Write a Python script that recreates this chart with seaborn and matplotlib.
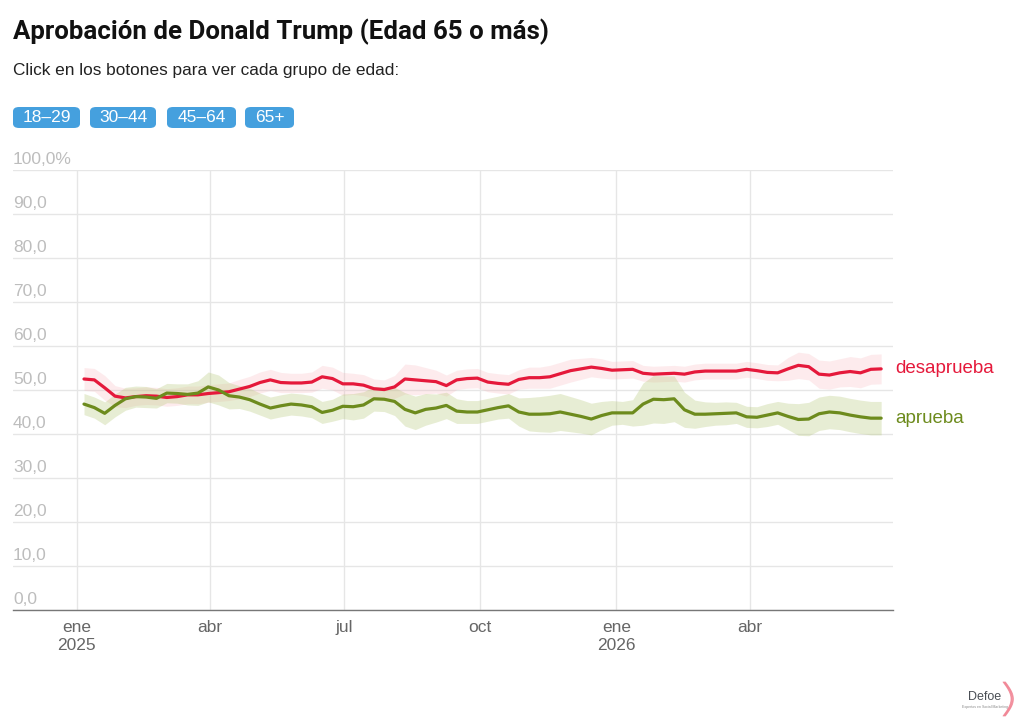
import numpy as np
import pandas as pd
import matplotlib.pyplot as plt
import seaborn as sns
from matplotlib.patches import FancyBboxPatch
from matplotlib.transforms import ScaledTranslation

# =============================================================================
# Data (weekly readings, 65+ age group)
# =============================================================================
weeks = pd.date_range('2025-01-06', periods=78, freq='7D')

desaprueba = [52.5, 52.3, 50.5, 48.6, 48.2, 48.5, 48.7, 48.6, 48.3, 48.5,
              48.9, 48.9, 49.2, 49.4, 49.6, 50.2, 50.8, 51.7, 52.3, 51.7,
              51.6, 51.6, 51.8, 53.0, 52.6, 51.4, 51.4, 51.1, 50.3, 50.1,
              50.7, 52.5, 52.3, 52.1, 51.9, 51.0, 52.3, 52.6, 52.7, 51.8,
              51.5, 51.3, 52.4, 52.8, 52.8, 53.0, 53.7, 54.4, 54.8, 55.2,
              54.9, 54.5, 54.6, 54.7, 53.8, 53.6, 53.7, 53.8, 53.6, 54.1,
              54.3, 54.3, 54.3, 54.3, 54.7, 54.4, 54.0, 53.9, 54.8, 55.6,
              55.3, 53.6, 53.4, 53.9, 54.2, 53.9, 54.7, 54.8]

aprueba = [46.8, 46.0, 44.7, 46.5, 48.0, 48.5, 48.4, 48.1, 49.3, 49.2,
           49.0, 49.3, 50.7, 50.0, 48.7, 48.4, 47.8, 46.8, 45.9, 46.4,
           46.8, 46.6, 46.2, 44.9, 45.4, 46.3, 46.2, 46.6, 48.0, 47.9,
           47.4, 45.6, 44.8, 45.6, 45.9, 46.5, 45.2, 45.0, 45.0, 45.5,
           46.0, 46.4, 45.0, 44.5, 44.5, 44.6, 45.0, 44.5, 44.0, 43.4,
           44.2, 44.8, 44.8, 44.8, 46.8, 47.9, 47.8, 48.0, 45.5, 44.5,
           44.5, 44.6, 44.7, 44.8, 43.9, 43.8, 44.3, 44.8, 44.0, 43.3,
           43.4, 44.6, 45.0, 44.8, 44.3, 43.9, 43.6, 43.6]

desaprueba_err = [2.6, 2.6, 2.8, 2.4, 2.2, 2.0, 2.0, 2.0, 2.0, 2.0,
                  2.0, 2.0, 2.0, 2.0, 2.0, 2.2, 2.3, 2.4, 2.4, 2.3,
                  2.2, 2.2, 2.3, 2.6, 2.6, 2.6, 2.4, 2.4, 2.2, 2.2,
                  2.6, 3.4, 3.4, 3.0, 2.6, 2.4, 2.2, 2.2, 2.2, 2.2,
                  2.2, 2.2, 2.2, 2.4, 2.4, 2.6, 2.6, 2.6, 2.4, 2.2,
                  2.2, 2.0, 2.0, 2.0, 1.8, 1.8, 1.8, 1.8, 1.8, 1.8,
                  1.8, 1.8, 1.8, 1.8, 1.8, 1.8, 1.8, 1.8, 2.6, 3.0,
                  3.0, 3.2, 3.2, 3.2, 3.4, 3.4, 3.4, 3.4]

aprueba_err = [2.4, 2.4, 2.6, 2.6, 2.6, 2.4, 2.4, 2.2, 2.2, 2.2,
               2.4, 2.8, 3.4, 3.4, 3.0, 2.6, 2.6, 2.5, 2.5, 2.5,
               2.5, 2.5, 2.5, 2.5, 2.5, 2.8, 3.0, 3.0, 2.8, 2.8,
               3.2, 3.8, 3.8, 3.6, 3.2, 3.0, 2.8, 2.6, 2.6, 2.6,
               2.6, 2.8, 3.2, 3.8, 4.0, 4.2, 4.2, 4.0, 3.8, 3.6,
               3.2, 2.8, 2.6, 3.0, 4.8, 5.4, 5.4, 5.2, 4.0, 3.2,
               2.8, 2.6, 2.6, 2.4, 2.4, 2.4, 2.6, 2.6, 3.0, 3.6,
               3.8, 3.8, 3.8, 3.8, 3.8, 3.8, 3.8, 3.8]

month_ticks = pd.to_datetime(['2025-01-01', '2025-04-01', '2025-07-01',
                              '2025-10-01', '2026-01-01', '2026-04-01'])
month_labels = ['ene\n2025', 'abr', 'jul', 'oct', 'ene\n2026', 'abr']
y_ticks = list(range(0, 101, 10))
y_labels = ['0,0', '10,0', '20,0', '30,0', '40,0', '50,0',
            '60,0', '70,0', '80,0', '90,0', '100,0%']
buttons = ['18–29', '30–44', '45–64', '65+']

RED = '#e5193b'
GREEN = '#6d8b1d'

df = pd.DataFrame({'fecha': weeks, 'desaprueba': desaprueba, 'aprueba': aprueba,
                   'd_err': desaprueba_err, 'a_err': aprueba_err})

# =============================================================================
# Plot
# =============================================================================
sns.set_theme(style='white')
plt.rcParams['font.family'] = ['Liberation Sans', 'DejaVu Sans']

W, H = 1024, 728
fig = plt.figure(figsize=(W / 100, H / 100), dpi=100)
ax = fig.add_axes([13 / W, (H - 610) / H, (893 - 13) / W, (610 - 170) / H])

def px(x, y):
    return x / W, (H - y) / H

ax.fill_between(df['fecha'], df['desaprueba'] - df['d_err'], df['desaprueba'] + df['d_err'],
                color='#f7a8b0', alpha=0.22, linewidth=0)
ax.fill_between(df['fecha'], df['aprueba'] - df['a_err'], df['aprueba'] + df['a_err'],
                color='#b7c97a', alpha=0.32, linewidth=0)
sns.lineplot(data=df, x='fecha', y='desaprueba', color=RED, linewidth=2.3, ax=ax,
             solid_joinstyle='round', solid_capstyle='round')
sns.lineplot(data=df, x='fecha', y='aprueba', color=GREEN, linewidth=2.3, ax=ax,
             solid_joinstyle='round', solid_capstyle='round')

ax.set_xlim(pd.Timestamp('2024-11-19'), pd.Timestamp('2026-07-07'))
ax.set_ylim(0, 100)
ax.set_xlabel('')
ax.set_ylabel('')

ax.set_xticks(month_ticks)
ax.set_xticklabels(month_labels, fontsize=12.5, color='#666666', linespacing=1.25)
ax.tick_params(axis='x', length=0, pad=7)
ax.set_yticks(y_ticks)
ax.set_yticklabels([])
ax.tick_params(axis='y', length=0)
ax.grid(True, color='#e6e6e6', linewidth=1.0)

for s in ['top', 'right', 'left']:
    ax.spines[s].set_visible(False)
ax.spines['bottom'].set_color('#777777')
ax.spines['bottom'].set_linewidth(1.0)

offset = ScaledTranslation(0, 4 / 72, fig.dpi_scale_trans)
for yv, lab in zip(y_ticks, y_labels):
    ax.text(0, yv, lab, transform=ax.get_yaxis_transform() + offset,
            ha='left', va='baseline', fontsize=12.5, color='#bdbdbd')

# series labels at the right end of the lines
last = df.iloc[-1]
ax.annotate('desaprueba', xy=(last['fecha'], last['desaprueba']), xytext=(10, 0),
            textcoords='offset points', va='center', ha='left', fontsize=13.5,
            color=RED, annotation_clip=False)
ax.annotate('aprueba', xy=(last['fecha'], last['aprueba']), xytext=(10, 0),
            textcoords='offset points', va='center', ha='left', fontsize=13.5,
            color=GREEN, annotation_clip=False)

# title and subtitle
fig.text(*px(13, 32), 'Aprobación de Donald Trump (Edad 65 o más)', fontsize=18.6,
         fontweight='bold', family=['Roboto', 'DejaVu Sans'], va='center', ha='left',
         color='#111111')
fig.text(*px(13, 70), 'Click en los botones para ver cada grupo de edad:',
         fontsize=12.4, va='center', ha='left', color='#222222')

# buttons
btn_x = [(13, 80), (90, 156), (167, 236), (245, 294)]
for (x0, x1), lab in zip(btn_x, buttons):
    bx, by = px(x0, 128)
    bw = (x1 - x0) / W
    bh = 21 / H
    fig.patches.append(FancyBboxPatch((bx, by), bw, bh,
                                      boxstyle='round,pad=0,rounding_size=0.006',
                                      transform=fig.transFigure, facecolor='#45a0de',
                                      edgecolor='none'))
    fig.text(bx + bw / 2, by + bh / 2, lab, color='white', fontsize=12.5,
             ha='center', va='center')

# logo
fig.text(*px(985, 697), 'Defoe', fontsize=9, color='#4a4f55', ha='center', va='center')
fig.text(*px(985, 707), 'Expertos en Social Marketing', fontsize=2.5, color='#888888',
         ha='center', va='center')
t = np.linspace(0, 1, 30)
for k in range(5):
    lx = 1003 + 8 * np.sin(np.pi * t) + k * 0.6
    ly = 682 + 34 * t
    fig.add_artist(plt.Line2D(lx / W, (H - ly) / H, color='#ef6b7e', linewidth=0.6,
                              alpha=0.7, transform=fig.transFigure))

plt.savefig('out.png', dpi=100)
